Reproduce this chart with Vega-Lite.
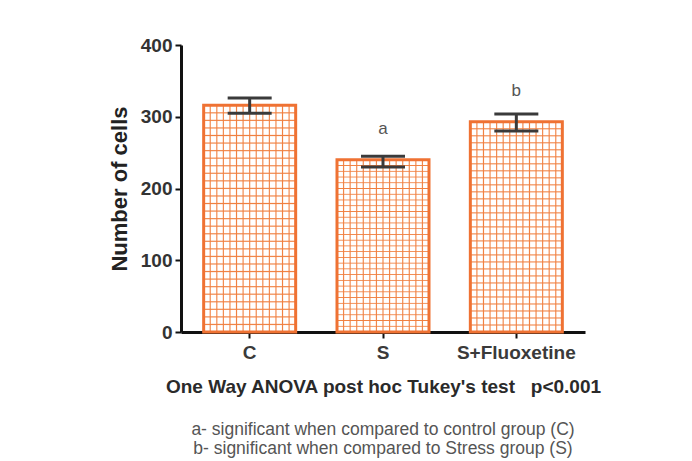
{
  "$schema": "https://vega.github.io/schema/vega-lite/v6.json",
  "width": 404,
  "height": 287,
  "autosize": "none",
  "padding": {"left": 181, "top": 45, "right": 107, "bottom": 129},
  "background": "white",
  "config": {
    "view": {"stroke": null},
    "font": "Liberation Sans"
  },
  "title": {
    "text": ["a- significant when compared to control group (C)", "b- significant when compared to Stress group (S)"],
    "orient": "bottom",
    "anchor": "middle",
    "fontSize": 17.5,
    "fontWeight": "normal",
    "color": "#555555",
    "lineHeight": 19,
    "offset": 25
  },
  "data": {
    "values": [
      {"group": "C", "mean": 316, "lo": 305, "hi": 326, "sig": ""},
      {"group": "S", "mean": 240, "lo": 230, "hi": 245, "sig": "a"},
      {"group": "S+Fluoxetine", "mean": 293, "lo": 280, "hi": 304, "sig": "b"}
    ]
  },
  "encoding": {
    "x": {
      "field": "group",
      "type": "nominal",
      "sort": null,
      "scale": {"paddingInner": 0.31, "paddingOuter": 0.17},
      "axis": {
        "title": "One Way ANOVA post hoc Tukey's test\u00a0\u00a0\u00a0p<0.001",
        "labelAngle": 0,
        "domainColor": "#111111",
        "domainWidth": 3,
        "tickColor": "#111111",
        "tickWidth": 2,
        "tickSize": 6,
        "labelFontSize": 19,
        "labelFontWeight": "bold",
        "labelColor": "#3a3a3a",
        "labelPadding": 5,
        "titleFontSize": 19,
        "titleFontWeight": "bold",
        "titleColor": "#2a2a2a",
        "titlePadding": 15
      }
    }
  },
  "layer": [
    {
      "mark": {
        "type": "bar",
        "fill": {
          "gradient": "linear", "x1": 0, "y1": 0, "x2": 1, "y2": 0,
          "stops": [
            {"offset": 0, "color": "#ffffff"},
            {"offset": 0.0594, "color": "#ffffff"}, {"offset": 0.0714, "color": "#f07f3f"}, {"offset": 0.0834, "color": "#ffffff"},
            {"offset": 0.1309, "color": "#ffffff"}, {"offset": 0.1429, "color": "#f07f3f"}, {"offset": 0.1549, "color": "#ffffff"},
            {"offset": 0.2023, "color": "#ffffff"}, {"offset": 0.2143, "color": "#f07f3f"}, {"offset": 0.2263, "color": "#ffffff"},
            {"offset": 0.2737, "color": "#ffffff"}, {"offset": 0.2857, "color": "#f07f3f"}, {"offset": 0.2977, "color": "#ffffff"},
            {"offset": 0.3451, "color": "#ffffff"}, {"offset": 0.3571, "color": "#f07f3f"}, {"offset": 0.3691, "color": "#ffffff"},
            {"offset": 0.4166, "color": "#ffffff"}, {"offset": 0.4286, "color": "#f07f3f"}, {"offset": 0.4406, "color": "#ffffff"},
            {"offset": 0.488, "color": "#ffffff"}, {"offset": 0.5, "color": "#f07f3f"}, {"offset": 0.512, "color": "#ffffff"},
            {"offset": 0.5594, "color": "#ffffff"}, {"offset": 0.5714, "color": "#f07f3f"}, {"offset": 0.5834, "color": "#ffffff"},
            {"offset": 0.6309, "color": "#ffffff"}, {"offset": 0.6429, "color": "#f07f3f"}, {"offset": 0.6549, "color": "#ffffff"},
            {"offset": 0.7023, "color": "#ffffff"}, {"offset": 0.7143, "color": "#f07f3f"}, {"offset": 0.7263, "color": "#ffffff"},
            {"offset": 0.7737, "color": "#ffffff"}, {"offset": 0.7857, "color": "#f07f3f"}, {"offset": 0.7977, "color": "#ffffff"},
            {"offset": 0.8451, "color": "#ffffff"}, {"offset": 0.8571, "color": "#f07f3f"}, {"offset": 0.8691, "color": "#ffffff"},
            {"offset": 0.9166, "color": "#ffffff"}, {"offset": 0.9286, "color": "#f07f3f"}, {"offset": 0.9406, "color": "#ffffff"},
            {"offset": 1, "color": "#ffffff"}
          ]
        }
      },
      "encoding": {
        "y": {
          "field": "mean",
          "type": "quantitative",
          "scale": {"domain": [0, 400], "nice": false},
          "axis": {
            "title": "Number of cells",
            "values": [0, 100, 200, 300, 400],
            "grid": false,
            "domainColor": "#111111",
            "domainWidth": 3,
            "tickColor": "#111111",
            "tickWidth": 2,
            "tickSize": 6,
            "labelFontSize": 19,
            "labelFontWeight": "bold",
            "labelColor": "#333333",
            "labelPadding": 3,
            "titleFontSize": 22,
            "titleFontWeight": "bold",
            "titleColor": "#222222",
            "titlePadding": 9
          }
        }
      }
    },
    {
      "mark": {
        "type": "bar",
        "stroke": "#ef7233",
        "strokeWidth": 3,
        "fill": {
          "gradient": "linear", "x1": 0, "y1": 0, "x2": 0, "y2": 1,
          "stops": [
            {"offset": 0, "color": "rgba(240,127,63,0)"},
            {"offset": 0.0283, "color": "rgba(240,127,63,0)"}, {"offset": 0.0333, "color": "#f07f3f"}, {"offset": 0.0383, "color": "rgba(240,127,63,0)"},
            {"offset": 0.0617, "color": "rgba(240,127,63,0)"}, {"offset": 0.0667, "color": "#f07f3f"}, {"offset": 0.0717, "color": "rgba(240,127,63,0)"},
            {"offset": 0.095, "color": "rgba(240,127,63,0)"}, {"offset": 0.1, "color": "#f07f3f"}, {"offset": 0.105, "color": "rgba(240,127,63,0)"},
            {"offset": 0.1283, "color": "rgba(240,127,63,0)"}, {"offset": 0.1333, "color": "#f07f3f"}, {"offset": 0.1383, "color": "rgba(240,127,63,0)"},
            {"offset": 0.1617, "color": "rgba(240,127,63,0)"}, {"offset": 0.1667, "color": "#f07f3f"}, {"offset": 0.1717, "color": "rgba(240,127,63,0)"},
            {"offset": 0.195, "color": "rgba(240,127,63,0)"}, {"offset": 0.2, "color": "#f07f3f"}, {"offset": 0.205, "color": "rgba(240,127,63,0)"},
            {"offset": 0.2283, "color": "rgba(240,127,63,0)"}, {"offset": 0.2333, "color": "#f07f3f"}, {"offset": 0.2383, "color": "rgba(240,127,63,0)"},
            {"offset": 0.2617, "color": "rgba(240,127,63,0)"}, {"offset": 0.2667, "color": "#f07f3f"}, {"offset": 0.2717, "color": "rgba(240,127,63,0)"},
            {"offset": 0.295, "color": "rgba(240,127,63,0)"}, {"offset": 0.3, "color": "#f07f3f"}, {"offset": 0.305, "color": "rgba(240,127,63,0)"},
            {"offset": 0.3283, "color": "rgba(240,127,63,0)"}, {"offset": 0.3333, "color": "#f07f3f"}, {"offset": 0.3383, "color": "rgba(240,127,63,0)"},
            {"offset": 0.3617, "color": "rgba(240,127,63,0)"}, {"offset": 0.3667, "color": "#f07f3f"}, {"offset": 0.3717, "color": "rgba(240,127,63,0)"},
            {"offset": 0.395, "color": "rgba(240,127,63,0)"}, {"offset": 0.4, "color": "#f07f3f"}, {"offset": 0.405, "color": "rgba(240,127,63,0)"},
            {"offset": 0.4283, "color": "rgba(240,127,63,0)"}, {"offset": 0.4333, "color": "#f07f3f"}, {"offset": 0.4383, "color": "rgba(240,127,63,0)"},
            {"offset": 0.4617, "color": "rgba(240,127,63,0)"}, {"offset": 0.4667, "color": "#f07f3f"}, {"offset": 0.4717, "color": "rgba(240,127,63,0)"},
            {"offset": 0.495, "color": "rgba(240,127,63,0)"}, {"offset": 0.5, "color": "#f07f3f"}, {"offset": 0.505, "color": "rgba(240,127,63,0)"},
            {"offset": 0.5283, "color": "rgba(240,127,63,0)"}, {"offset": 0.5333, "color": "#f07f3f"}, {"offset": 0.5383, "color": "rgba(240,127,63,0)"},
            {"offset": 0.5617, "color": "rgba(240,127,63,0)"}, {"offset": 0.5667, "color": "#f07f3f"}, {"offset": 0.5717, "color": "rgba(240,127,63,0)"},
            {"offset": 0.595, "color": "rgba(240,127,63,0)"}, {"offset": 0.6, "color": "#f07f3f"}, {"offset": 0.605, "color": "rgba(240,127,63,0)"},
            {"offset": 0.6283, "color": "rgba(240,127,63,0)"}, {"offset": 0.6333, "color": "#f07f3f"}, {"offset": 0.6383, "color": "rgba(240,127,63,0)"},
            {"offset": 0.6617, "color": "rgba(240,127,63,0)"}, {"offset": 0.6667, "color": "#f07f3f"}, {"offset": 0.6717, "color": "rgba(240,127,63,0)"},
            {"offset": 0.695, "color": "rgba(240,127,63,0)"}, {"offset": 0.7, "color": "#f07f3f"}, {"offset": 0.705, "color": "rgba(240,127,63,0)"},
            {"offset": 0.7283, "color": "rgba(240,127,63,0)"}, {"offset": 0.7333, "color": "#f07f3f"}, {"offset": 0.7383, "color": "rgba(240,127,63,0)"},
            {"offset": 0.7617, "color": "rgba(240,127,63,0)"}, {"offset": 0.7667, "color": "#f07f3f"}, {"offset": 0.7717, "color": "rgba(240,127,63,0)"},
            {"offset": 0.795, "color": "rgba(240,127,63,0)"}, {"offset": 0.8, "color": "#f07f3f"}, {"offset": 0.805, "color": "rgba(240,127,63,0)"},
            {"offset": 0.8283, "color": "rgba(240,127,63,0)"}, {"offset": 0.8333, "color": "#f07f3f"}, {"offset": 0.8383, "color": "rgba(240,127,63,0)"},
            {"offset": 0.8617, "color": "rgba(240,127,63,0)"}, {"offset": 0.8667, "color": "#f07f3f"}, {"offset": 0.8717, "color": "rgba(240,127,63,0)"},
            {"offset": 0.895, "color": "rgba(240,127,63,0)"}, {"offset": 0.9, "color": "#f07f3f"}, {"offset": 0.905, "color": "rgba(240,127,63,0)"},
            {"offset": 0.9283, "color": "rgba(240,127,63,0)"}, {"offset": 0.9333, "color": "#f07f3f"}, {"offset": 0.9383, "color": "rgba(240,127,63,0)"},
            {"offset": 0.9617, "color": "rgba(240,127,63,0)"}, {"offset": 0.9667, "color": "#f07f3f"}, {"offset": 0.9717, "color": "rgba(240,127,63,0)"},
            {"offset": 1, "color": "rgba(240,127,63,0)"}
          ]
        }
      },
      "encoding": {
        "y": {"field": "mean", "type": "quantitative"}
      }
    },
    {
      "mark": {"type": "rule", "color": "#3a3a3a", "strokeWidth": 3},
      "encoding": {
        "y": {"field": "lo", "type": "quantitative"},
        "y2": {"field": "hi"}
      }
    },
    {
      "mark": {"type": "tick", "color": "#3a3a3a", "thickness": 3, "size": 44, "opacity": 1},
      "encoding": {
        "y": {"field": "hi", "type": "quantitative"}
      }
    },
    {
      "mark": {"type": "tick", "color": "#3a3a3a", "thickness": 3, "size": 44, "opacity": 1},
      "encoding": {
        "y": {"field": "lo", "type": "quantitative"}
      }
    },
    {
      "mark": {"type": "text", "fontSize": 17, "color": "#555555", "baseline": "middle", "dy": -31},
      "encoding": {
        "y": {"field": "mean", "type": "quantitative"},
        "text": {"field": "sig"}
      }
    }
  ]
}
